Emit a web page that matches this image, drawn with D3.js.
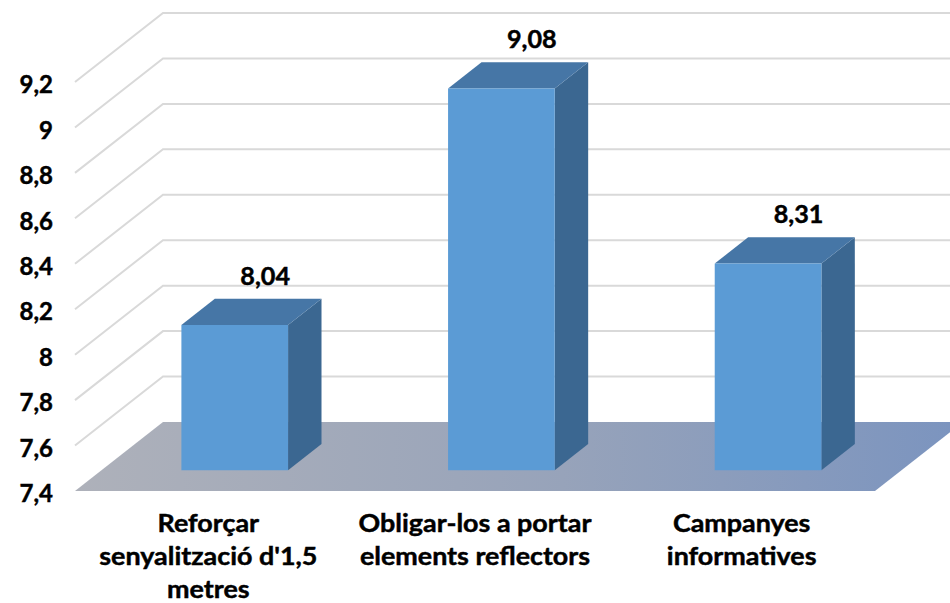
<!DOCTYPE html>
<html>
<head>
<meta charset="utf-8">
<script src="https://cdn.jsdelivr.net/npm/d3@7"></script>
<style>
  html, body { margin: 0; padding: 0; background: #fff; }
  svg { display: block; }
  text { font-family: Lato, "Open Sans", sans-serif; font-weight: 700; fill: #000; stroke: #000; stroke-width: 0.45px; }
</style>
</head>
<body>
<svg id="chart" width="950" height="603"></svg>
<script>
// ---- data ----
const categories = ["Reforçar senyalització d'1,5 metres", "Obligar-los a portar elements reflectors", "Campanyes informatives"];
const categoryLines = [["Reforçar", "senyalització d'1,5", "metres"], ["Obligar-los a portar", "elements reflectors"], ["Campanyes", "informatives"]];
const values = [8.04, 9.08, 8.31];
const tickValues = [7.4, 7.6, 7.8, 8.0, 8.2, 8.4, 8.6, 8.8, 9.0, 9.2];

// ---- layout ----
const W = 950, H = 603;
const svg = d3.select("#chart");
const locale = d3.formatLocale({ decimal: ",", thousands: ".", grouping: [3], currency: ["", "€"] });
const fmtTick = v => locale.format("~r")(+v.toFixed(2));
const fmtVal = locale.format(".2f");

// front plane
const x = d3.scaleBand().domain(categories).range([75, 875]).paddingInner(0.6).paddingOuter(0.3);
const y = d3.scaleLinear().domain([7.4, 9.2]).range([491, 82]);
// depth (oblique projection): full depth shift
const DX = 88, DY = 69;
const depth = d3.scaleLinear().domain([0, 1]).range([0, 1]);
const P = (px, v, d) => [px + depth(d) * DX, y(v) - depth(d) * DY];
const barFront = 0.30, barBack = 0.68;

const defs = svg.append("defs");
const fg = defs.append("linearGradient").attr("id", "floorGrad").attr("x1", "0").attr("x2", "1").attr("y1", "0").attr("y2", "0");
fg.append("stop").attr("offset", "0%").attr("stop-color", "#AEB1BA");
fg.append("stop").attr("offset", "55%").attr("stop-color", "#97A3BA");
fg.append("stop").attr("offset", "100%").attr("stop-color", "#7B94BF");

const line = d3.line();
const [x0, x1] = x.range();
const yMin = y.domain()[0];

// gridlines: side wall diagonals + back wall horizontals
const grid = svg.append("g").attr("fill", "none").attr("stroke", "#D9D9D9").attr("stroke-width", 2);
tickValues.filter(t => t > yMin + 1e-9).forEach(t => {
  const a = P(x0, t, 0), b = P(x0, t, 1), c = [W + 20, b[1]];
  grid.append("path").attr("d", line([a, b, c]));
});

// floor
svg.append("path")
  .attr("d", line([P(x0, yMin, 0), P(x1, yMin, 0), P(x1, yMin, 1), P(x0, yMin, 1)]) + "Z")
  .attr("fill", "url(#floorGrad)");

// bars
const bars = svg.append("g");
categories.forEach((c, i) => {
  const v = values[i];
  const l = x(c), r = x(c) + x.bandwidth();
  const g = bars.append("g");
  g.append("path").attr("fill", "#3B6791")
    .attr("d", line([P(r, yMin, barFront), P(r, yMin, barBack), P(r, v, barBack), P(r, v, barFront)]) + "Z");
  g.append("path").attr("fill", "#4676A6")
    .attr("d", line([P(l, v, barFront), P(r, v, barFront), P(r, v, barBack), P(l, v, barBack)]) + "Z");
  g.append("path").attr("fill", "#5B9BD5")
    .attr("d", line([P(l, yMin, barFront), P(r, yMin, barFront), P(r, v, barFront), P(l, v, barFront)]) + "Z");
  const top = P((l + r) / 2, v, barBack);
  svg.append("text")
    .attr("transform", `translate(${top[0] - 3},${top[1] - 14}) scale(1.05,1)`)
    .attr("text-anchor", "middle").attr("font-size", 24).text(fmtVal(v));
});

// y axis labels (front plane)
const yAxis = d3.axisLeft(y).tickValues(tickValues).tickSize(0).tickPadding(0).tickFormat(fmtTick);
const ya = svg.append("g").attr("transform", "translate(53,3)").call(yAxis);
ya.select(".domain").remove();
ya.selectAll("text").attr("font-size", 24).attr("font-family", "Lato, sans-serif").attr("font-weight", 700)
  .attr("fill", "#000").attr("stroke", "#000").attr("stroke-width", 0.45);

// category labels
categories.forEach((c, i) => {
  const cx = x(c) + x.bandwidth() / 2;
  const t = svg.append("text").attr("text-anchor", "middle").attr("font-size", 24)
    .attr("transform", `translate(${cx},532) scale(1.12,1)`);
  categoryLines[i].forEach((ln, j) => {
    t.append("tspan").attr("x", 0).attr("y", j * 33).text(ln);
  });
});
</script>
</body>
</html>
